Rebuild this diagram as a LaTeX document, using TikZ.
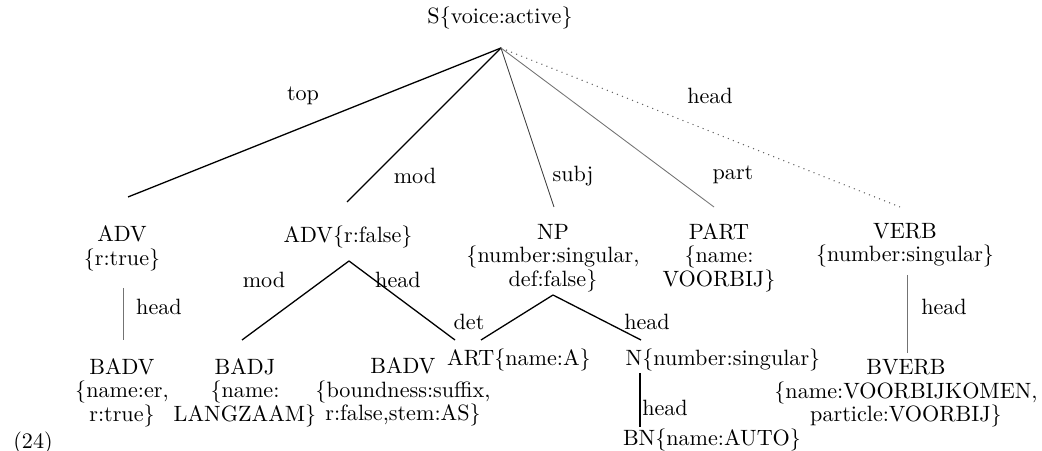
\documentclass[tikz,border=0pt]{standalone}
\begin{document}
\begin{tikzpicture}[x=0.4608pt, y=-0.4608pt,
  cat/.style={inner sep=0pt, font=\fontsize{10.2}{10.8}\selectfont, align=center},
  lbl/.style={inner sep=0pt, font=\fontsize{10.2}{10.8}\selectfont},
  edgeb/.style={line width=0.6pt, black},
  edget/.style={line width=0.4pt, black!75},
  edgeg/.style={line width=0.4pt, black!55},
  edgedot/.style={line width=0.5pt, black!60, dotted}]
\useasboundingbox (0,0) rectangle (1042,451);
% nodes
\node[cat] (S) at (500,18) {S\{voice:active\}};
\node[cat] (ADVt) at (122,248.5) {ADV\\\{r:true\}};
\node[cat] (ADVf) at (348,237) {ADV\{r:false\}};
\node[cat] (NP) at (553,258) {NP\\\{number:singular,\\def:false\}};
\node[cat] (PART) at (719,257.5) {PART\\\{name:\\VOORBIJ\}};
\node[cat] (VERB) at (905,245) {VERB\\\{number:singular\}};
\node[cat] (BADVa) at (122,392.5) {BADV\\\{name:er,\\r:true\}};
\node[cat] (BADJ) at (245,392.5) {BADJ\\\{name:\\LANGZAAM\}};
\node[cat] (BADVb) at (403,392) {BADV\\\{boundness:suffix,\\r:false,stem:AS\}};
\node[cat] (ART) at (519,360) {ART\{name:A\}};
\node[cat] (N) at (723,360) {N\{number:singular\}};
\node[cat] (BN) at (712,440) {BN\{name:AUTO\}};
\node[cat] (BVERB) at (906,393.5) {BVERB\\\{name:VOORBIJKOMEN,\\particle:VOORBIJ\}};
\node[cat] (ex) at (33,443) {(24)};
% connector points
\coordinate (Sa) at (501,48);
\coordinate (ADVt-in) at (128,197);
\coordinate (ADVf-in) at (347,202);
\coordinate (NP-in) at (554,207);
\coordinate (PART-in) at (714,207);
\coordinate (VERB-in) at (900,207);
\coordinate (ADVt-out) at (123,288);
\coordinate (BADVa-in) at (123,340);
\coordinate (ADVf-a) at (349,261);
\coordinate (BADJ-in) at (242,340);
\coordinate (ADVf-r) at (455,340);
\coordinate (NP-a) at (553,295);
\coordinate (ART-in) at (481,340);
\coordinate (N-in) at (641,340);
\coordinate (N-out) at (640,373);
\coordinate (BN-in) at (640,427);
\coordinate (VERB-out) at (907,275);
\coordinate (BVERB-in) at (907,353);
% connectors
\draw[edgeb] (Sa) -- (ADVt-in);
\draw[edgeb] (Sa) -- (ADVf-in);
\draw[edget] (Sa) -- (NP-in);
\draw[edgeg] (Sa) -- (PART-in);
\draw[edgedot] (Sa) -- (VERB-in);
\draw[edgeg] (ADVt-out) -- (BADVa-in);
\draw[edgeb] (ADVf-a) -- (BADJ-in);
\draw[edgeb] (ADVf-a) -- (ADVf-r);
\draw[edgeb] (NP-a) -- (ART-in);
\draw[edgeb] (NP-a) -- (N-in);
\draw[edgeb] (N-out) -- (BN-in);
\draw[edgeg] (VERB-out) -- (BVERB-in);
% labels
\node[lbl] (l1) at (303,96) {top};
\node[lbl] (l2) at (710,96) {head};
\node[lbl] (l3) at (415,176) {mod};
\node[lbl] (l4) at (573,176) {subj};
\node[lbl] (l5) at (733,175) {part};
\node[lbl] (l6) at (159,307) {head};
\node[lbl] (l7) at (264,280) {mod};
\node[lbl] (l8) at (398,280) {head};
\node[lbl] (l9) at (469,322) {det};
\node[lbl] (l10) at (647,322) {head};
\node[lbl] (l11) at (665,408) {head};
\node[lbl] (l12) at (944,307) {head};
\end{tikzpicture}
\end{document}
